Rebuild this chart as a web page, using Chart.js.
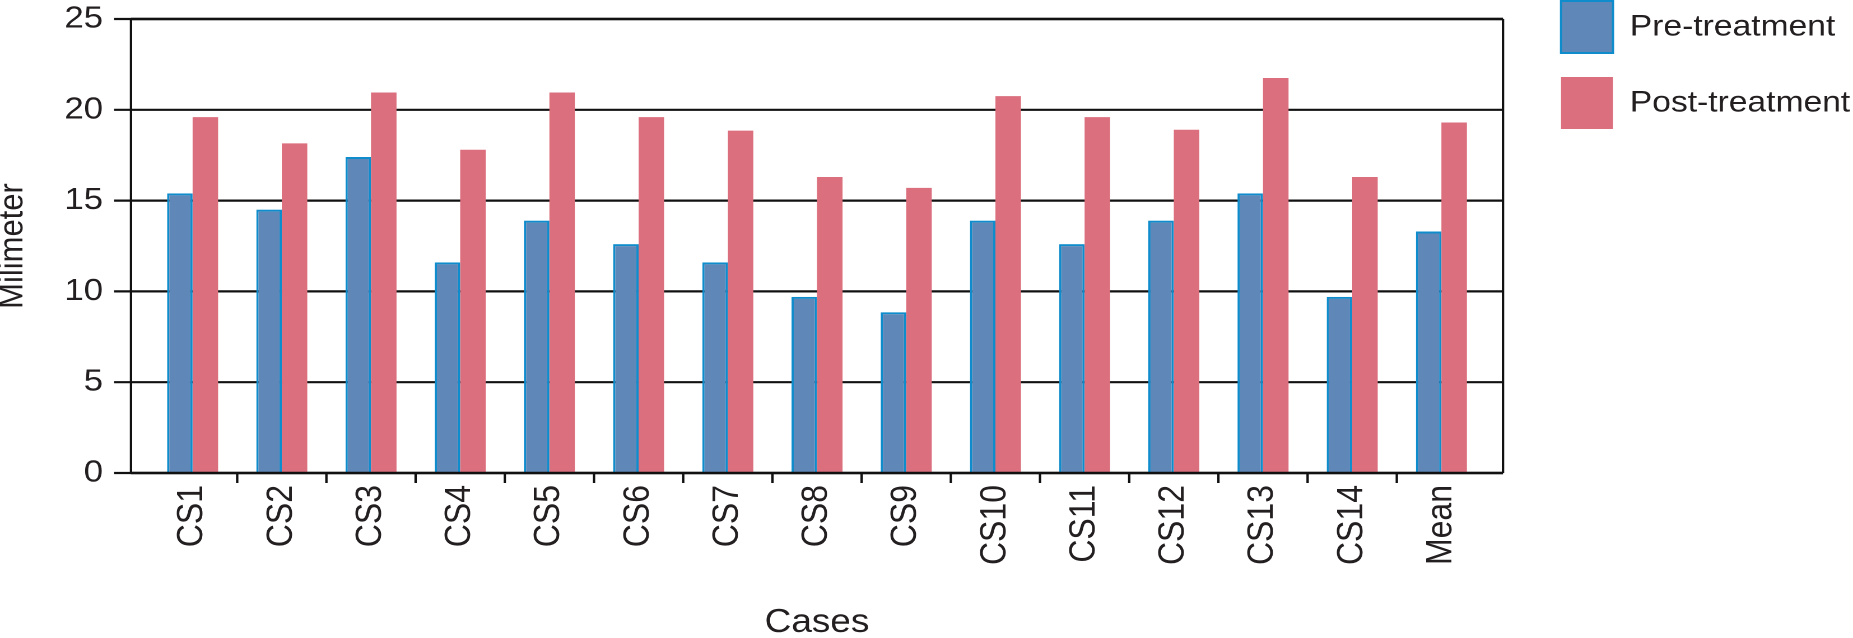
<!DOCTYPE html>
<html>
<head>
<meta charset="utf-8">
<script src="https://cdn.jsdelivr.net/npm/chart.js@4.4.1/dist/chart.umd.min.js"></script>
<style>
  html, body { margin: 0; padding: 0; background: #fff; overflow: hidden; }
  /* the figure is a little wider than it is tall, so stretch the canvas sideways */
  #chart { display: block; transform-origin: 0 0; }
</style>
</head>
<body>
<canvas id="chart" width="1654" height="638"></canvas>
<script>
const categories = ['CS1', 'CS2', 'CS3', 'CS4', 'CS5', 'CS6', 'CS7', 'CS8', 'CS9', 'CS10', 'CS11', 'CS12', 'CS13', 'CS14', 'Mean']
const preTreatment = [15.4, 14.5, 17.4, 11.6, 13.9, 12.6, 11.6, 9.7, 8.85, 13.9, 12.6, 13.9, 15.4, 9.7, 13.3]
const postTreatment = [19.6, 18.15, 20.95, 17.8, 20.95, 19.6, 18.85, 16.3, 15.7, 20.75, 19.6, 18.9, 21.75, 16.3, 19.3]
const yTickStep = 5

const W = 1654
const S = 1853 / W // horizontal stretch
const canvas = document.getElementById('chart')
canvas.style.transform = 'scaleX(' + S + ')'

const CHART_LEFT = 148 / S
const CHART_RIGHT = 1486 / S
const SIDE_GAP = 17 / S   // frame sits a bit outside the category bands
const Y_TICK = 17 / S
const X_TICK = 10
const LEGEND_LEFT = 1561 / S
const LEGEND_TOP = 1
const INK = '#231f20'

Chart.defaults.font.family = "'Liberation Sans', Arial, sans-serif"
Chart.defaults.color = INK

// grid behind the bars, frame and tick marks on top
const frame = {
  id: 'frame',
  beforeDatasetsDraw(chart) {
    const { ctx, chartArea: a, scales: { y } } = chart
    const left = a.left - SIDE_GAP
    const right = a.right + SIDE_GAP
    ctx.save()
    ctx.strokeStyle = '#111'
    ctx.lineWidth = 2.2
    y.ticks.forEach(t => {
      const py = y.getPixelForValue(t.value)
      ctx.beginPath()
      ctx.moveTo(left - Y_TICK, py)
      ctx.lineTo(right, py)
      ctx.stroke()
    })
    ctx.restore()
  },
  afterDatasetsDraw(chart) {
    const { ctx, chartArea: a, scales: { x } } = chart
    const left = a.left - SIDE_GAP
    const right = a.right + SIDE_GAP
    ctx.save()
    ctx.strokeStyle = '#111'
    ctx.lineWidth = 2.4
    ctx.beginPath()
    ctx.moveTo(left, a.top); ctx.lineTo(right, a.top)
    ctx.moveTo(left, a.bottom); ctx.lineTo(right, a.bottom)
    ctx.stroke()
    ctx.lineWidth = 2.4 / S
    ctx.beginPath()
    ctx.moveTo(left, a.top); ctx.lineTo(left, a.bottom)
    ctx.moveTo(right, a.top); ctx.lineTo(right, a.bottom)
    for (let i = 0; i < categories.length - 1; i++) {
      const px = (x.getPixelForValue(i) + x.getPixelForValue(i + 1)) / 2
      ctx.moveTo(px, a.bottom); ctx.lineTo(px, a.bottom + X_TICK)
    }
    ctx.stroke()
    ctx.restore()
  }
}

// put the legend in the top right corner, outside the plot
const legendSpot = {
  id: 'legendSpot',
  afterLayout(chart) {
    const lg = chart.legend
    if (!lg) return
    const pad = lg.options.labels.padding
    lg.left = LEGEND_LEFT - pad
    lg.top = LEGEND_TOP - pad
    lg.right = lg.left + lg.width
    lg.bottom = lg.top + lg.height
  }
}

new Chart(canvas, {
  type: 'bar',
  data: {
    labels: categories,
    datasets: [
      {
        label: 'Pre-treatment',
        data: preTreatment,
        backgroundColor: '#5f88b9',
        borderColor: '#0f8ccb',
        borderWidth: 2,
        borderSkipped: 'start'
      },
      {
        label: 'Post-treatment',
        data: postTreatment,
        backgroundColor: '#db6f7e',
        borderColor: '#db6f7e',
        borderWidth: 0
      }
    ]
  },
  plugins: [frame, legendSpot],
  options: {
    responsive: false,
    animation: false,
    devicePixelRatio: 2,
    layout: {
      padding: { left: 0, top: 19, right: W - CHART_RIGHT, bottom: 0 }
    },
    datasets: {
      bar: {
        categoryPercentage: 0.572,
        barPercentage: 1.0
      }
    },
    plugins: {
      tooltip: { enabled: false },
      legend: {
        position: 'chartArea',
        align: 'start',
        labels: {
          boxWidth: 52 / S,
          boxHeight: 52,
          padding: 24,
          color: INK,
          font: { size: 30 }
        }
      }
    },
    scales: {
      x: {
        offset: true,
        // tick marks are drawn by the frame plugin; tickLength only spaces the labels
        grid: { display: false, drawTicks: true, tickLength: 12 },
        border: { display: false },
        ticks: {
          autoSkip: false,
          minRotation: 90,
          maxRotation: 90,
          padding: 0,
          font: { size: 32 }
        },
        title: {
          display: true,
          text: 'Cases',
          padding: 0,
          font: { size: 33, lineHeight: 0.91 }
        },
        afterFit: s => { s.height = 638 - 473 }
      },
      y: {
        min: 0,
        max: 25,
        grid: { display: false, drawTicks: true, tickLength: CHART_LEFT - 103 / S },
        border: { display: false },
        ticks: {
          stepSize: yTickStep,
          padding: 0,
          font: { size: 31 }
        },
        title: {
          display: true,
          text: 'Milimeter',
          padding: 0,
          font: { size: 31, lineHeight: 0.75 }
        },
        afterFit: s => { s.width = CHART_LEFT }
      }
    }
  }
})
</script>
</body>
</html>
